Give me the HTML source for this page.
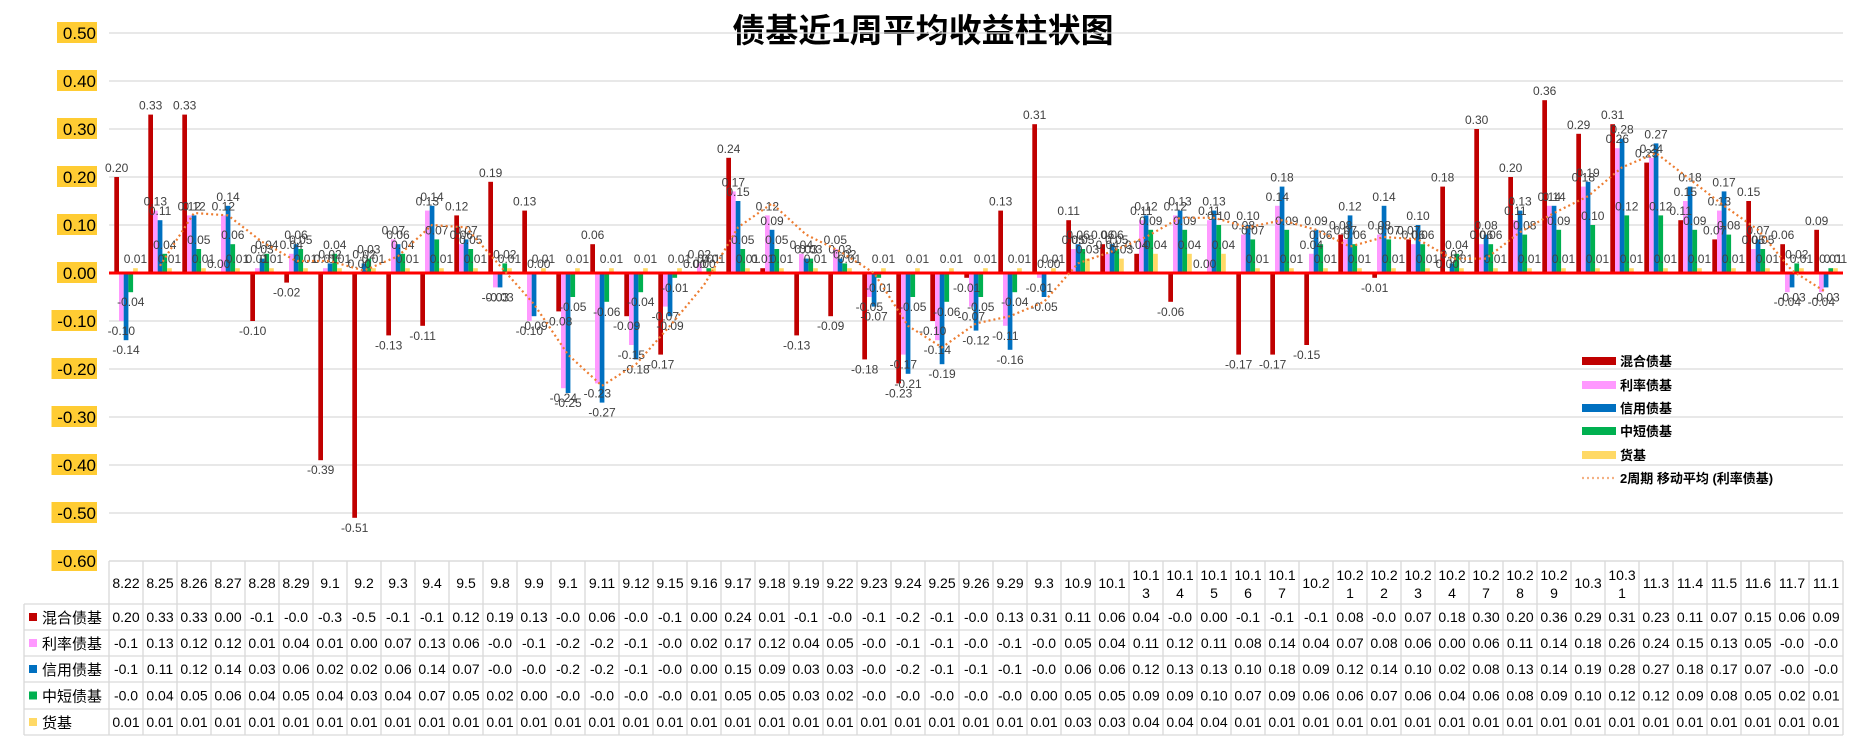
<!DOCTYPE html>
<html><head><meta charset="utf-8"><style>
html,body{margin:0;padding:0;background:#fff;}
svg{display:block;font-family:"Liberation Sans","Noto Sans CJK SC",sans-serif;}
</style></head><body>
<svg id="chart" width="1856" height="743" viewBox="0 0 1856 743" xmlns="http://www.w3.org/2000/svg">
<rect width="1856" height="743" fill="#fff"/>
<text x="923" y="42" text-anchor="middle" font-size="33" font-weight="bold" fill="#000" font-family="'Liberation Sans','Noto Sans CJK SC',sans-serif">债基近1周平均收益柱状图</text>
<g id="grid"></g><g id="bars"></g><g id="labels"></g><g id="line"></g><g id="yaxis"></g><g id="legend"></g><g id="table"></g>
</svg>
<script>
const categories=["8.22","8.25","8.26","8.27","8.28","8.29","9.1","9.2","9.3","9.4","9.5","9.8","9.9","9.1","9.11","9.12","9.15","9.16","9.17","9.18","9.19","9.22","9.23","9.24","9.25","9.26","9.29","9.3","10.9","10.1","10.13","10.14","10.15","10.16","10.17","10.2","10.21","10.22","10.23","10.24","10.27","10.28","10.29","10.3","10.31","11.3","11.4","11.5","11.6","11.7","11.1"];
const mixed=[0.20,0.33,0.33,0.00,-0.10,-0.02,-0.39,-0.51,-0.13,-0.11,0.12,0.19,0.13,-0.08,0.06,-0.09,-0.17,0.00,0.24,0.01,-0.13,-0.09,-0.18,-0.23,-0.10,-0.01,0.13,0.31,0.11,0.06,0.04,-0.06,0.00,-0.17,-0.17,-0.15,0.08,-0.01,0.07,0.18,0.30,0.20,0.36,0.29,0.31,0.23,0.11,0.07,0.15,0.06,0.09];
const rate=[-0.10,0.13,0.12,0.12,0.01,0.04,0.01,0.00,0.07,0.13,0.06,-0.03,-0.10,-0.24,-0.23,-0.15,-0.07,0.02,0.17,0.12,0.04,0.05,-0.05,-0.17,-0.14,-0.07,-0.11,-0.01,0.05,0.04,0.11,0.12,0.11,0.08,0.14,0.04,0.07,0.08,0.06,0.00,0.06,0.11,0.14,0.18,0.26,0.24,0.15,0.13,0.05,-0.04,-0.04];
const credit=[-0.14,0.11,0.12,0.14,0.03,0.06,0.02,0.02,0.06,0.14,0.07,-0.03,-0.09,-0.25,-0.27,-0.18,-0.09,0.00,0.15,0.09,0.03,0.03,-0.07,-0.21,-0.19,-0.12,-0.16,-0.05,0.06,0.06,0.12,0.13,0.13,0.10,0.18,0.09,0.12,0.14,0.10,0.02,0.08,0.13,0.14,0.19,0.28,0.27,0.18,0.17,0.07,-0.03,-0.03];
const shortTerm=[-0.04,0.04,0.05,0.06,0.04,0.05,0.04,0.03,0.04,0.07,0.05,0.02,0.00,-0.05,-0.06,-0.04,-0.01,0.01,0.05,0.05,0.03,0.02,-0.01,-0.05,-0.06,-0.05,-0.04,0.00,0.05,0.05,0.09,0.09,0.10,0.07,0.09,0.06,0.06,0.07,0.06,0.04,0.06,0.08,0.09,0.10,0.12,0.12,0.09,0.08,0.05,0.02,0.01];
const money=[0.01,0.01,0.01,0.01,0.01,0.01,0.01,0.01,0.01,0.01,0.01,0.01,0.01,0.01,0.01,0.01,0.01,0.01,0.01,0.01,0.01,0.01,0.01,0.01,0.01,0.01,0.01,0.01,0.03,0.03,0.04,0.04,0.04,0.01,0.01,0.01,0.01,0.01,0.01,0.01,0.01,0.01,0.01,0.01,0.01,0.01,0.01,0.01,0.01,0.01,0.01];
const seriesNames=["混合债基","利率债基","信用债基","中短债基","货基"];
const yTicks=[0.5,0.4,0.3,0.2,0.1,0,-0.1,-0.2,-0.3,-0.4,-0.5,-0.6];

const NS="http://www.w3.org/2000/svg";
const series=[mixed,rate,credit,shortTerm,money];
const colors=["#C00000","#FF99FF","#0070C0","#00B050","#FFD966"];
const X0=109,CW=34,Y0=273,YS=480;
const xAt=i=>X0+CW*i;
const yAt=v=>Y0-v*YS;
function mk(tag,attrs,parent){const e=document.createElementNS(NS,tag);for(const k in attrs)e.setAttribute(k,attrs[k]);parent.appendChild(e);return e;}
const G=id=>document.getElementById(id);

// grid + y axis
yTicks.forEach(t=>{
  const y=yAt(t);
  if(t!==0){const l=mk('line',{x1:X0,x2:X0+CW*categories.length,y1:y,y2:y,stroke:'#d9d9d9','stroke-width':1.3},G('grid'));
  
  }
  const s=t.toFixed(2);
  const w=s.length*9.5-(t<0?4:0)+2;
  const r=mk('rect',{x:97-w,y:y-11,width:w,height:21,fill:'#FFCC33'},G('yaxis'));
  
  
  const tx=mk('text',{x:96,y:y+6,'text-anchor':'end','font-size':17,fill:'#000'},G('yaxis'));
  tx.textContent=s;
  
  
});

// bars and labels
const BW=4.7,BOFF=5.3;
series.forEach((arr,j)=>{
  arr.forEach((v,i)=>{
    const x=xAt(i)+BOFF+BW*j;
    const y1=yAt(Math.max(v,0)),y2=yAt(Math.min(v,0));
    const b=mk('rect',{x:x,y:y1,width:BW,height:Math.max(y2-y1,0.5),fill:colors[j]},G('bars'));
    
    
    const t=mk('text',{x:x+BW/2,y:v>=0?y1-5:y2+14,'text-anchor':'middle','font-size':12,fill:'#404040'},G('labels'));
    t.textContent=v.toFixed(2);
    
    
  });
});
// zero line
const z=mk('line',{x1:X0,x2:X0+CW*categories.length,y1:Y0,y2:Y0,stroke:'#FF0000','stroke-width':3},G('grid'));


G('grid').parentNode.insertBefore(G('grid'),G('bars'));
const zl=z.cloneNode();G('labels').parentNode.insertBefore(zl,G('labels'));



// moving average
let pts=[];
for(let i=1;i<rate.length;i++){pts.push((xAt(i)+CW/2)+','+yAt((rate[i-1]+rate[i])/2));}
const pl=mk('polyline',{points:pts.join(' '),fill:'none',stroke:'#ED7D31','stroke-width':2.2,'stroke-dasharray':'2 3'},G('line'));



// legend
const legY=[361,385,408,431,455];
seriesNames.forEach((n,j)=>{
  const r=mk('rect',{x:1582,y:legY[j]-4,width:34,height:8,fill:colors[j]},G('legend'));
  
  
  const t=mk('text',{x:1620,y:legY[j]+5,'font-size':13,'font-weight':'bold',fill:'#000'},G('legend'));
  t.textContent=n;
  
  
});
const ml=mk('line',{x1:1582,x2:1616,y1:478,y2:478,stroke:'#F4B183','stroke-width':2.2,'stroke-dasharray':'2 3'},G('legend'));


const mt=mk('text',{x:1620,y:483,'font-size':13,'font-weight':'bold',fill:'#000'},G('legend'));
mt.textContent='2周期 移动平均 (利率债基)';



// data table
const T=G('table');
const rowY=[561,604,630,656,682,709,735];
const XR=X0+CW*categories.length;
function ln(x1,y1,x2,y2){const l=mk('line',{x1,y1,x2,y2,stroke:'#d9d9d9','stroke-width':1.3},T);

}
ln(X0,rowY[0],XR,rowY[0]);
for(let r=1;r<rowY.length;r++)ln(24,rowY[r],XR,rowY[r]);
ln(24,rowY[1],24,rowY[6]);
for(let i=0;i<=categories.length;i++)ln(xAt(i),rowY[0],xAt(i),rowY[6]);
categories.forEach((c,i)=>{
  const cx=xAt(i)+CW/2;
  if(c.length>4){
    const t1=mk('text',{x:cx,y:580,'text-anchor':'middle','font-size':14,fill:'#000'},T);t1.textContent=c.slice(0,4);
    
    
    const t2=mk('text',{x:cx,y:598,'text-anchor':'middle','font-size':14,fill:'#000'},T);t2.textContent=c.slice(4);
    
    
  }else{
    const t=mk('text',{x:cx,y:588,'text-anchor':'middle','font-size':14,fill:'#000'},T);t.textContent=c;
    
    
  }
});
series.forEach((arr,j)=>{
  const yc=(rowY[j+1]+rowY[j+2])/2;
  const s=mk('rect',{x:29,y:yc-4,width:8,height:8,fill:colors[j]},T);
  
  
  const h=mk('text',{x:42,y:yc+6,'font-size':15,fill:'#000'},T);h.textContent=seriesNames[j];
  
  
  arr.forEach((v,i)=>{
    const t=mk('text',{x:xAt(i)+CW/2,y:yc+5,'text-anchor':'middle','font-size':14,fill:'#000'},T);
    t.textContent=v.toFixed(2).slice(0,4);
    
    
  });
});
</script>
</body></html>
